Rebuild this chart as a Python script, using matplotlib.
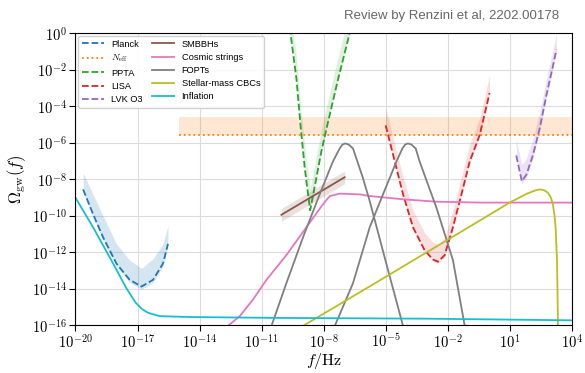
import numpy as np
import matplotlib

matplotlib.use("Agg")
import matplotlib.pyplot as plt
from matplotlib.ticker import FuncFormatter

plt.rcParams["mathtext.fontset"] = "cm"

# all values are log10(f / Hz) and log10(Omega_gw)
planck_f = [-19.63, -19.15, -18.67, -18.02, -17.38, -16.81, -16.25, -15.77, -15.53]
planck_y = [-8.56, -9.91, -11.17, -12.62, -13.51, -13.88, -13.51, -12.62, -11.54]
planck_hi = [-7.66, -8.83, -10.00, -11.54, -12.43, -12.89, -12.35, -11.54, -10.54]

neff_f = [-15.0, 4.0]
neff_y = [-5.6, -5.6]
neff_hi = [-4.6, -4.6]

ppta_f = [-9.64, -9.61, -9.32, -9.11, -8.92, -8.76, -8.66, -8.60, -8.36, -8.12, -7.87, -7.31, -6.75, -6.69]
ppta_y = [0.3, 0.0, -2.52, -5.23, -7.39, -8.83, -9.70, -9.37, -7.93, -6.49, -5.23, -2.52, 0.0, 0.3]

lisa_f = [-5.01, -4.57, -4.17, -3.69, -3.13, -2.72, -2.48, -2.16, -1.76, -1.35, -0.95, -0.47, 0.01]
lisa_y = [-5.05, -7.03, -8.83, -10.63, -11.89, -12.40, -12.52, -12.16, -10.63, -8.83, -7.03, -5.59, -3.28]

lvk_f = [1.30, 1.43, 1.57, 1.79, 2.11, 2.43, 2.75, 3.07, 3.24]
lvk_y = [-6.70, -7.39, -8.11, -7.75, -6.67, -5.23, -3.43, -1.81, -0.90]

smbbh_f = [-10.05, -6.99]
smbbh_y = [-9.95, -7.89]

strings_f = [-12.70, -12.06, -11.42, -10.77, -9.81, -8.84, -8.04, -7.71, -7.23, -6.27,
             -5.78, -4.17, -2.56, -0.47, 4.0]
strings_y = [-16.10, -15.50, -14.59, -13.51, -12.16, -10.63, -9.37, -8.92, -8.79, -8.83,
             -8.92, -9.10, -9.23, -9.28, -9.28]

fopt1_f = [-10.60, -10.53, -9.81, -9.00, -8.20, -7.56, -7.23, -7.10, -6.96, -6.80, -6.59,
           -6.11, -5.78, -4.98, -4.17, -4.10]
fopt1_y = [-16.30, -16.04, -13.70, -11.17, -8.83, -7.03, -6.31, -6.10, -6.04, -6.10, -6.31,
           -7.93, -9.20, -12.62, -16.04, -16.30]
fopt2_f = [-7.55, -7.47, -6.59, -5.78, -5.14, -4.49, -4.20, -4.07, -3.93, -3.77, -3.56,
           -3.37, -2.56, -1.76, -1.19, -1.12]
fopt2_y = [-16.30, -16.04, -13.70, -10.63, -8.83, -7.03, -6.31, -6.10, -6.04, -6.10, -6.31,
           -7.03, -9.55, -12.43, -16.04, -16.30]

cbc_f = [-9.10, -5.78, -0.47, 0.98, 1.80, 2.20, 2.43, 2.65, 2.83, 2.97, 3.07, 3.15, 3.20,
         3.27, 3.31, 3.31]
cbc_y = [-16.10, -13.87, -10.27, -9.28, -8.80, -8.62, -8.56, -8.60, -8.74, -9.00, -9.37,
         -10.00, -10.63, -12.43, -15.50, -16.10]

infl_f = [-20.0, -19.15, -18.18, -17.54, -17.10, -16.80, -16.49, -15.93, -14.48, -10.0, -3.0, 4.0]
infl_y = [-9.01, -10.63, -12.62, -13.97, -14.75, -15.10, -15.32, -15.50, -15.55, -15.60, -15.64, -15.73]

xticks_exp = list(range(-20, 5, 3))
yticks_exp = list(range(-16, 1, 2))


def p(v):
    return 10.0 ** np.asarray(v, dtype=float)


fig = plt.figure(figsize=(5.85, 3.73), dpi=100)
ax = fig.add_axes([0.129, 0.128, 0.849, 0.783])

c_blue, c_orange, c_green, c_red, c_purple = "#1f77b4", "#ff7f0e", "#2ca02c", "#d62728", "#9467bd"
c_brown, c_pink, c_gray, c_olive, c_cyan = "#8c564b", "#e377c2", "#7f7f7f", "#bcbd22", "#17becf"

# uncertainty bands
ax.fill_between(p(planck_f), p(np.array(planck_y) - 0.15), p(planck_hi),
                color=c_blue, alpha=0.18, lw=0)
ax.fill_between(p(neff_f), p(neff_y), p(neff_hi), color=c_orange, alpha=0.18, lw=0)
ax.fill_between(p(ppta_f), p(ppta_y), p(np.array(ppta_y) + 1.2), color=c_green, alpha=0.15, lw=0)
ax.fill_between(p(lisa_f), p(np.array(lisa_y) - 0.1), p(np.array(lisa_y) + 0.95),
                color=c_red, alpha=0.15, lw=0)
ax.fill_between(p(lvk_f), p(np.array(lvk_y) - 0.15), p(np.array(lvk_y) + 0.9),
                color=c_purple, alpha=0.18, lw=0)
ax.fill_between(p(smbbh_f), p(np.array(smbbh_y) - 0.35), p(np.array(smbbh_y) + 0.35),
                color=c_brown, alpha=0.18, lw=0)

lw = 1.3
ax.plot(p(planck_f), p(planck_y), "--", color=c_blue, lw=lw, label="Planck")
ax.plot(p(neff_f), p(neff_y), ":", color=c_orange, lw=lw, label=r"$N_{\rm eff}$")
ax.plot(p(ppta_f), p(ppta_y), "--", color=c_green, lw=lw, label="PPTA")
ax.plot(p(lisa_f), p(lisa_y), "--", color=c_red, lw=lw, label="LISA")
ax.plot(p(lvk_f), p(lvk_y), "--", color=c_purple, lw=lw, label="LVK O3")
ax.plot(p(smbbh_f), p(smbbh_y), "-", color=c_brown, lw=lw, label="SMBBHs")
ax.plot(p(strings_f), p(strings_y), "-", color=c_pink, lw=lw, label="Cosmic strings")
ax.plot(p(fopt1_f), p(fopt1_y), "-", color=c_gray, lw=lw, label="FOPTs")
ax.plot(p(fopt2_f), p(fopt2_y), "-", color=c_gray, lw=lw)
ax.plot(p(cbc_f), p(cbc_y), "-", color=c_olive, lw=lw, label="Stellar-mass CBCs")
ax.plot(p(infl_f), p(infl_y), "-", color=c_cyan, lw=lw, label="Inflation")

ax.set_xscale("log")
ax.set_yscale("log")
ax.set_xlim(1e-20, 1e4)
ax.set_ylim(1e-16, 1e0)
ax.set_xticks(p(xticks_exp))
ax.set_yticks(p(yticks_exp))
ax.minorticks_off()
exp_fmt = FuncFormatter(lambda v, pos: r"$10^{%d}$" % int(round(np.log10(v))))
ax.xaxis.set_major_formatter(exp_fmt)
ax.yaxis.set_major_formatter(exp_fmt)
ax.tick_params(labelsize=10.5, length=4, width=0.8, pad=2)
ax.tick_params(axis="x", pad=1.5)
ax.grid(True, color="#dcdcdc", lw=0.8)
ax.set_axisbelow(True)

ax.set_xlabel(r"$f/{\rm Hz}$", fontsize=11.5, va="bottom")
ax.xaxis.set_label_coords(0.5, -0.156)
ax.set_ylabel(r"$\Omega_{\rm gw}(f)$", fontsize=12, labelpad=3)

ax.legend(loc="upper left", ncol=2, handlelength=2.33, labelspacing=0.45,
          columnspacing=1.0, borderaxespad=0.3, handletextpad=0.83, framealpha=0.9,
          prop={"family": "Liberation Sans", "size": 6.7})

fig.text(0.955, 0.958, "Review by Renzini et al, 2202.00178", ha="right", va="center",
         fontsize=9.5, color="#666666", family="Liberation Sans")

fig.savefig("out.png", dpi=100)
